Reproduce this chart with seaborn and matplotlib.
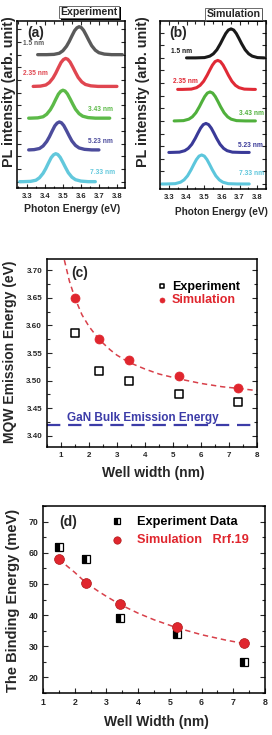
import matplotlib as mpl

mpl.use('Agg')
import matplotlib.pyplot as plt
import matplotlib.patheffects as pe
from matplotlib.ticker import MultipleLocator
import pandas as pd
import seaborn as sns

sns.set_style('ticks')
plt.rcParams['font.family'] = ['Liberation Sans', 'DejaVu Sans']
plt.rcParams['font.weight'] = 'bold'
plt.rcParams['axes.labelweight'] = 'bold'
plt.rcParams['xtick.direction'] = 'in'
plt.rcParams['ytick.direction'] = 'in'
plt.rcParams['axes.linewidth'] = 1.1
plt.rcParams['axes.edgecolor'] = 'black'

#### data ####
well_labels = ['1.5 nm', '2.35 nm', '3.43 nm', '5.23 nm', '7.33 nm']
well_width = [1.5, 2.35, 3.43, 5.23, 7.33]

# PL spectra, peak / start / end of each trace (eV)
exp_peak = [3.59, 3.515, 3.50, 3.48, 3.46]
exp_start = [3.36, 3.335, 3.31, 3.31, 3.26]
exp_end = [3.83, 3.80, 3.76, 3.70, 3.68]
sim_peak = [3.652, 3.577, 3.533, 3.51, 3.486]
sim_start = [3.40, 3.35, 3.33, 3.30, 3.26]
sim_end = [3.84, 3.79, 3.79, 3.755, 3.755]

# line shape read around the peak (offset in eV, relative height)
exp_dx = [-0.18, -0.14, -0.11, -0.09, -0.07, -0.055, -0.04, -0.025, -0.012, 0,
          0.012, 0.025, 0.04, 0.055, 0.07, 0.09, 0.11, 0.14, 0.18]
exp_h = [0, 0.01, 0.05, 0.14, 0.30, 0.47, 0.67, 0.86, 0.96, 1,
         0.97, 0.87, 0.69, 0.50, 0.32, 0.16, 0.07, 0.02, 0]
sim_dx = [-0.2, -0.15, -0.12, -0.1, -0.08, -0.06, -0.045, -0.03, -0.015, 0,
          0.015, 0.03, 0.045, 0.06, 0.08, 0.1, 0.12, 0.15, 0.2]
sim_h = [0, 0.01, 0.06, 0.14, 0.28, 0.49, 0.67, 0.84, 0.96, 1,
         0.96, 0.84, 0.67, 0.49, 0.28, 0.14, 0.06, 0.01, 0]

# panel (c)
exp_energy = [3.587, 3.517, 3.499, 3.475, 3.461]
sim_energy = [3.649, 3.575, 3.537, 3.509, 3.486]
fit_c_x = [1.12, 1.3, 1.5, 1.75, 2.0, 2.35, 2.75, 3.0, 3.43, 4.0, 4.5, 5.23,
           6.0, 6.75, 7.33, 8.0]
fit_c_y = [3.718, 3.680, 3.649, 3.619, 3.598, 3.575, 3.556, 3.546, 3.533,
           3.521, 3.512, 3.503, 3.495, 3.489, 3.486, 3.482]
gan_bulk = 3.42

# panel (d)
exp_binding = [62, 58, 39, 34, 25]
sim_binding = [58, 50.2, 43.4, 36.1, 30.9]
fit_d_x = [1.5, 1.75, 2.0, 2.35, 2.75, 3.0, 3.43, 4.0, 4.5, 5.23, 6.0, 6.75,
           7.33]
fit_d_y = [58, 55.8, 53.7, 50.4, 47.6, 46.0, 43.4, 40.6, 38.5, 35.9, 33.7,
           32.0, 30.9]

exp_colors = ['#5a5a5a', '#e04650', '#5cba48', '#4c4c9c', '#62c8dc']
sim_colors = ['#1a1a1a', '#e02a36', '#50b03c', '#3a3a98', '#5cc6dc']
red = '#e0262e'


#### funcs ####
def build_spectrum(peak, start, end, dx, h, offset, amp):
    xs = [start]
    ys = [offset]
    for d, v in zip(dx, h):
        e = peak + d
        if start < e < end:
            xs.append(e)
            ys.append(offset + amp * v)
    xs.append(end)
    ys.append(offset)
    return pd.DataFrame({'E': xs, 'I': ys})


def spectra_panel(ax, peaks, starts, ends, dx, h, colors, amp, lw):
    for i in range(len(peaks)):
        df = build_spectrum(peaks[i], starts[i], ends[i], dx, h, 4 - i, amp)
        sns.lineplot(data=df, x='E', y='I', color=colors[i], lw=lw,
                     sort=False, estimator=None, ax=ax)
    ax.xaxis.set_major_locator(MultipleLocator(0.1))
    ax.xaxis.set_minor_locator(MultipleLocator(0.05))
    ax.yaxis.set_major_locator(MultipleLocator(0.4))
    ax.tick_params(which='both', top=True, right=True, labelleft=False,
                   width=0.8)
    ax.tick_params(which='major', length=3, labelsize=5.5)
    ax.tick_params(which='minor', length=1.8)
    ax.set(xlabel='', ylabel='')


def boxed_title(fig, x, y, text, size):
    t = fig.text(x, y, text, ha='center', va='center', fontsize=size,
                 bbox=dict(boxstyle='square,pad=0.12', fc='white',
                           ec='#555555', lw=0.6))
    t.get_bbox_patch().set_path_effects(
        [pe.SimplePatchShadow(offset=(1.2, -1.2), shadow_rgbFace='black',
                              alpha=1), pe.Normal()])


W, H = 272, 735
fig = plt.figure(figsize=(W / 100, H / 100), dpi=100)


def add_axes(left, right, top, bottom):
    return fig.add_axes([left / W, 1 - bottom / H, (right - left) / W,
                         (bottom - top) / H])


# (a) experiment spectra
ax_a = add_axes(17, 125, 21, 188)
spectra_panel(ax_a, exp_peak, exp_start, exp_end, exp_dx, exp_h, exp_colors,
              0.88, 2.4)
ax_a.set_xlim(3.245, 3.845)
ax_a.set_ylim(-0.2, 5.06)
a_pos = [(3.28, 4.34, 'left'), (3.28, 3.41, 'left'), (3.777, 2.28, 'right'),
         (3.777, 1.25, 'right'), (3.79, 0.28, 'right')]
for (x, y, ha), lab, c in zip(a_pos, well_labels, exp_colors):
    ax_a.text(x, y, lab, color=c, fontsize=4.8, ha=ha, va='center')
ax_a.text(3.30, 4.69, '(a)', fontsize=10, ha='left', va='center')
boxed_title(fig, 89 / W, 1 - 12 / H, 'Experiment', 7.6)
fig.text(9 / W, 1 - 92 / H, 'PL intensity (arb. unit)', rotation=90,
         ha='center', va='center', fontsize=10.3)
fig.text(72 / W, 1 - 209 / H, 'Photon Energy (eV)', ha='center',
         va='center', fontsize=7.5)

# (b) simulation spectra
ax_b = add_axes(160, 266, 21, 189)
spectra_panel(ax_b, sim_peak, sim_start, sim_end, sim_dx, sim_h, sim_colors,
              0.92, 2.2)
ax_b.set_xlim(3.25, 3.85)
ax_b.set_ylim(-0.16, 5.17)
b_pos = [(3.31, 4.19, 'left'), (3.323, 3.24, 'left'), (3.84, 2.25, 'right'),
         (3.834, 1.21, 'right'), (3.84, 0.32, 'right')]
for (x, y, ha), lab, c in zip(b_pos, well_labels, sim_colors):
    ax_b.text(x, y, lab, color=c, fontsize=4.8, ha=ha, va='center')
ax_b.text(3.30, 4.79, '(b)', fontsize=10, ha='left', va='center')
boxed_title(fig, 233.5 / W, 1 - 14 / H, 'Simulation', 7.6)
fig.text(143 / W, 1 - 92 / H, 'PL intensity (arb. unit)', rotation=90,
         ha='center', va='center', fontsize=10.3)
fig.text(221 / W, 1 - 212 / H, 'Photon Energy (eV)', ha='center',
         va='center', fontsize=7.2)

# (c) emission energy
ax_c = add_axes(47, 257, 259, 447)
ax_c.axhline(gan_bulk, color='#3c3ca8', lw=1.6, dashes=(6, 3.5))
sns.lineplot(x=fit_c_x, y=fit_c_y, color='#d8404a', lw=1.1,
             linestyle=(0, (3.5, 2.5)), ax=ax_c)
sns.scatterplot(x=well_width, y=exp_energy, marker='s', s=26, color='white',
                edgecolor='black', linewidth=1.1, label='Experiment', ax=ax_c,
                zorder=3)
sns.scatterplot(x=well_width, y=sim_energy, s=42, color=red, edgecolor=red,
                label='Simulation', ax=ax_c, zorder=3)
ax_c.set_xlim(0.5, 8)
ax_c.set_ylim(3.38, 3.72)
ax_c.xaxis.set_major_locator(MultipleLocator(1))
ax_c.xaxis.set_minor_locator(MultipleLocator(0.5))
ax_c.yaxis.set_major_locator(MultipleLocator(0.05))
ax_c.yaxis.set_minor_locator(MultipleLocator(0.025))
ax_c.yaxis.set_major_formatter(mpl.ticker.FormatStrFormatter('%.2f'))
ax_c.tick_params(which='both', right=True, width=0.8)
ax_c.tick_params(which='major', length=3.5, labelsize=5.8)
ax_c.tick_params(which='minor', length=2)
ax_c.set(xlabel='', ylabel='')
leg = ax_c.legend(loc='upper left', bbox_to_anchor=(0.53, 0.885),
                  frameon=False, fontsize=9, handlelength=0.6,
                  handletextpad=0.5, labelspacing=0.1, borderpad=0,
                  borderaxespad=0, markerscale=0.55)
leg.get_texts()[0].set_color('black')
leg.get_texts()[1].set_color(red)
ax_c.text(1.23, 3.433, 'GaN Bulk Emission Energy', color='#3c3ca8',
          fontsize=8.5, ha='left', va='center')
ax_c.text(1.37, 3.695, '(c)', fontsize=10, ha='left', va='center')
fig.text(10 / W, 1 - 352 / H, 'MQW Emission Energy (eV)', rotation=90,
         ha='center', va='center', fontsize=10)
fig.text(153.5 / W, 1 - 473 / H, 'Well width (nm)', ha='center',
         va='center', fontsize=10)

# (d) binding energy
ax_d = add_axes(43, 265, 506, 693)
sns.lineplot(x=fit_d_x, y=fit_d_y, color='#d8404a', lw=1.1,
             linestyle=(0, (3.5, 2.5)), ax=ax_d)
sns.lineplot(x=well_width, y=exp_binding, marker='s', linestyle='',
             markersize=6, fillstyle='left', markerfacecolor='black',
             markerfacecoloralt='white', markeredgecolor='black',
             markeredgewidth=0.9, color='black', label='Experiment Data',
             ax=ax_d, zorder=3)
sns.scatterplot(x=well_width, y=sim_binding, s=50, color=red,
                edgecolor='#b01818', linewidth=0.5,
                label='Simulation   Rrf.19', ax=ax_d, zorder=4)
ax_d.set_xlim(1, 8)
ax_d.set_ylim(15, 75)
ax_d.xaxis.set_major_locator(MultipleLocator(1))
ax_d.xaxis.set_minor_locator(MultipleLocator(0.5))
ax_d.yaxis.set_major_locator(MultipleLocator(10))
ax_d.yaxis.set_minor_locator(MultipleLocator(5))
ax_d.tick_params(which='both', right=True, width=0.8)
ax_d.tick_params(which='major', length=3.5, labelsize=6.3)
ax_d.tick_params(which='minor', length=2)
ax_d.set(xlabel='', ylabel='')
leg = ax_d.legend(loc='upper left', bbox_to_anchor=(0.31, 0.945),
                  frameon=False, fontsize=9.2, handlelength=0.8,
                  handletextpad=1.2, labelspacing=0.45, borderpad=0,
                  borderaxespad=0, markerscale=0.75)
leg.get_texts()[0].set_color('black')
leg.get_texts()[1].set_color(red)
ax_d.text(1.5, 70, '(d)', fontsize=10, ha='left', va='center')
fig.text(13 / W, 1 - 600 / H, 'The Binding Energy (meV)', rotation=90,
         ha='center', va='center', fontsize=10.5)
fig.text(156.7 / W, 1 - 722 / H, 'Well Width (nm)', ha='center',
         va='center', fontsize=10)

plt.savefig('out.png', dpi=100)
